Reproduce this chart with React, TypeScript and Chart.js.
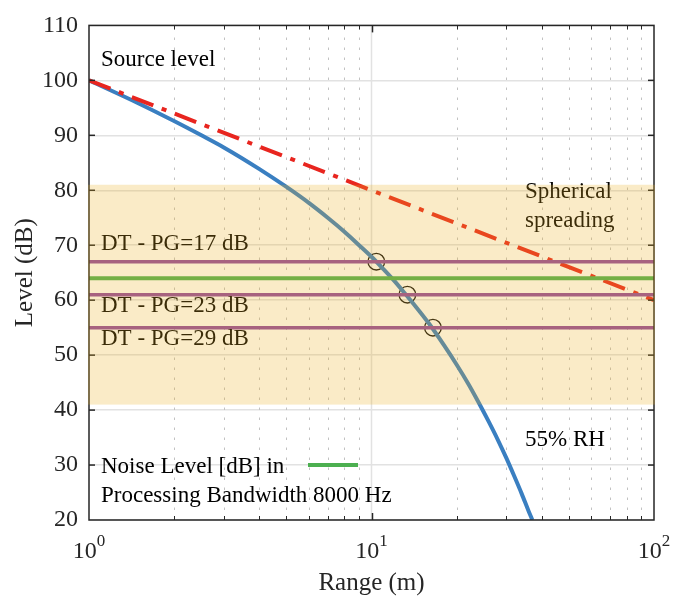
import React, { useEffect, useRef } from 'react';
import { Chart, registerables } from 'chart.js';

Chart.register(...registerables);

// ---- data ----
const rangeM = [1, 1.5, 2, 2.5, 3, 4, 5, 6, 7, 8, 9, 10, 11, 12, 13, 14, 16, 18, 20, 22, 24, 26, 28, 30, 32, 34, 36, 37.1];
const levelDb = [100, 95.8, 92.6, 90.0, 87.8, 83.9, 80.6, 77.7, 75.0, 72.5, 70.1, 67.9, 65.7, 63.6, 61.5, 59.5, 55.7, 51.9, 48.3, 44.8, 41.3, 37.9, 34.6, 31.3, 28.0, 24.8, 21.6, 20.0];

const spreadRange = [1, 100];
const spreadLevel = [100, 60];

const thresholdLevels = [67, 61, 55];
const thresholdLabels = ['DT - PG=17 dB', 'DT - PG=23 dB', 'DT - PG=29 dB'];
const noiseLevel = 64;

const crossRange = [10.4, 13.4, 16.5];
const crossLevel = [67, 61, 55];

const bandLow = 41;
const bandHigh = 81;

const xMajor = [1, 10, 100];
const xMinor = [2, 3, 4, 5, 6, 7, 8, 9, 20, 30, 40, 50, 60, 70, 80, 90];
const yMin = 20;
const yMax = 110;
const yStep = 10;

const FONT = "'Liberation Serif', 'Times New Roman', serif";

const decor = {
  id: 'decor',
  beforeDatasetsDraw(chart: any) {
    const { ctx, chartArea: a, scales } = chart;
    const x = scales.x;
    ctx.save();
    ctx.strokeStyle = '#c2c2c2';
    ctx.lineWidth = 1;
    ctx.setLineDash([2.5, 7.5]);
    for (const v of xMinor) {
      const px = Math.round(x.getPixelForValue(v)) + 0.5;
      ctx.beginPath();
      ctx.moveTo(px, a.bottom);
      ctx.lineTo(px, a.top);
      ctx.stroke();
    }
    ctx.setLineDash([]);
    ctx.strokeStyle = '#e2e2e2';
    ctx.lineWidth = 1.5;
    const p10 = x.getPixelForValue(10);
    ctx.beginPath();
    ctx.moveTo(p10, a.bottom);
    ctx.lineTo(p10, a.top);
    ctx.stroke();
    ctx.restore();
  },
  afterDraw(chart: any) {
    const { ctx, chartArea: a, scales } = chart;
    const x = scales.x;
    const y = scales.y;
    ctx.save();
    // box
    ctx.strokeStyle = '#262626';
    ctx.lineWidth = 1.5;
    ctx.strokeRect(a.left, a.top, a.right - a.left, a.bottom - a.top);
    // ticks
    ctx.lineWidth = 1;
    const tick = (x1: number, y1: number, x2: number, y2: number) => {
      ctx.beginPath();
      ctx.moveTo(x1, y1);
      ctx.lineTo(x2, y2);
      ctx.stroke();
    };
    for (const v of xMinor) {
      const px = Math.round(x.getPixelForValue(v)) + 0.5;
      tick(px, a.bottom, px, a.bottom - 4);
      tick(px, a.top, px, a.top + 4);
    }
    {
      const px = Math.round(x.getPixelForValue(10)) + 0.5;
      ctx.lineWidth = 1.5;
      tick(px, a.bottom, px, a.bottom - 7);
      tick(px, a.top, px, a.top + 7);
    }
    ctx.lineWidth = 1.5;
    for (let v = yMin + yStep; v < yMax; v += yStep) {
      const py = y.getPixelForValue(v);
      tick(a.left, py, a.left + 6, py);
      tick(a.right, py, a.right - 6, py);
    }
    // x tick labels 10^n
    ctx.fillStyle = '#262626';
    ctx.textBaseline = 'alphabetic';
    ctx.textAlign = 'left';
    for (const v of xMajor) {
      const px = x.getPixelForValue(v);
      const base = '10';
      const exp = String(Math.round(Math.log10(v)));
      ctx.font = `24px ${FONT}`;
      const wb = ctx.measureText(base).width;
      ctx.font = `17px ${FONT}`;
      const we = ctx.measureText(exp).width;
      const start = px - (wb + we) / 2;
      ctx.font = `24px ${FONT}`;
      ctx.fillText(base, start, 558);
      ctx.font = `17px ${FONT}`;
      ctx.fillText(exp, start + wb, 546);
    }
    // axis titles
    ctx.fillStyle = '#262626';
    ctx.font = `25px ${FONT}`;
    ctx.textAlign = 'center';
    ctx.fillText('Range (m)', (a.left + a.right) / 2, 590);
    ctx.save();
    ctx.translate(32, (a.top + a.bottom) / 2);
    ctx.rotate(-Math.PI / 2);
    ctx.fillText('Level (dB)', 0, 0);
    ctx.restore();
    // annotations
    ctx.fillStyle = '#000';
    ctx.font = `23px ${FONT}`;
    ctx.textAlign = 'left';
    ctx.fillText('Source level', 101, 66);
    ctx.fillText('Spherical', 525, 198);
    ctx.fillText('spreading', 525, 227);
    const labelBase = [250, 312, 345];
    thresholdLabels.forEach((t, i) => ctx.fillText(t, 101, labelBase[i]));
    ctx.fillText('55% RH', 525, 446);
    // legend
    ctx.fillText('Noise Level [dB] in', 101, 473);
    ctx.fillText('Processing Bandwidth 8000 Hz', 101, 502);
    ctx.strokeStyle = '#4caf50';
    ctx.lineWidth = 4;
    tick(308, 465, 358, 465);
    // band overlay
    const yt = y.getPixelForValue(bandHigh);
    const yb = y.getPixelForValue(bandLow);
    ctx.fillStyle = 'rgba(237,177,32,0.25)';
    ctx.fillRect(a.left - 1, yt, a.right - a.left + 2, yb - yt);
    ctx.restore();
  },
};

export default function App() {
  const ref = useRef<HTMLCanvasElement>(null);
  useEffect(() => {
    if (!ref.current) return;
    const purple = '#91489f';
    const hLine = (v: number, color: string, w: number) => ({
      data: [{ x: 1, y: v }, { x: 100, y: v }],
      borderColor: color,
      borderWidth: w,
      pointRadius: 0,
      showLine: true,
      fill: false,
    });
    const chart = new Chart(ref.current, {
      type: 'scatter',
      data: {
        datasets: [
          ...thresholdLevels.map((v) => hLine(v, purple, 3.5)),
          hLine(noiseLevel, '#4caf50', 4),
          {
            data: spreadRange.map((r, i) => ({ x: r, y: spreadLevel[i] })),
            borderColor: '#e8251f',
            borderWidth: 4,
            borderDash: [23, 9, 5, 9],
            borderCapStyle: 'butt',
            pointRadius: 0,
            showLine: true,
            fill: false,
          },
          {
            data: rangeM.map((r, i) => ({ x: r, y: levelDb[i] })),
            borderColor: '#3a7fc1',
            borderWidth: 4,
            pointRadius: 0,
            showLine: true,
            cubicInterpolationMode: 'monotone',
            fill: false,
          },
          {
            data: crossRange.map((r, i) => ({ x: r, y: crossLevel[i] })),
            showLine: false,
            pointRadius: 8.3,
            pointBorderWidth: 1.4,
            pointBorderColor: '#111',
            pointBackgroundColor: 'rgba(0,0,0,0)',
          },
        ] as any,
      },
      options: {
        animation: false,
        responsive: false,
        maintainAspectRatio: false,
        devicePixelRatio: 1,
        layout: { padding: { top: 18, right: 32, bottom: 0, left: 0 } },
        plugins: { legend: { display: false }, tooltip: { enabled: false } },
        scales: {
          x: {
            type: 'logarithmic',
            min: 1,
            max: 100,
            ticks: { display: false },
            grid: { display: false },
            border: { display: false },
            afterFit: (s: any) => { s.height = 80; },
          },
          y: {
            type: 'linear',
            min: yMin,
            max: yMax,
            ticks: {
              stepSize: yStep,
              color: '#262626',
              padding: 11,
              font: { family: FONT, size: 24 },
            },
            grid: { color: '#e2e2e2', lineWidth: 1.5, drawTicks: false },
            border: { display: false },
            afterFit: (s: any) => { s.width = 89; },
          },
        },
      } as any,
      plugins: [decor],
    });
    return () => chart.destroy();
  }, []);
  return (
    <div style={{ position: 'absolute', left: 0, top: 0, width: 686, height: 600, background: '#fff' }}>
      <canvas ref={ref} width={686} height={600} style={{ display: 'block' }} />
    </div>
  );
}
